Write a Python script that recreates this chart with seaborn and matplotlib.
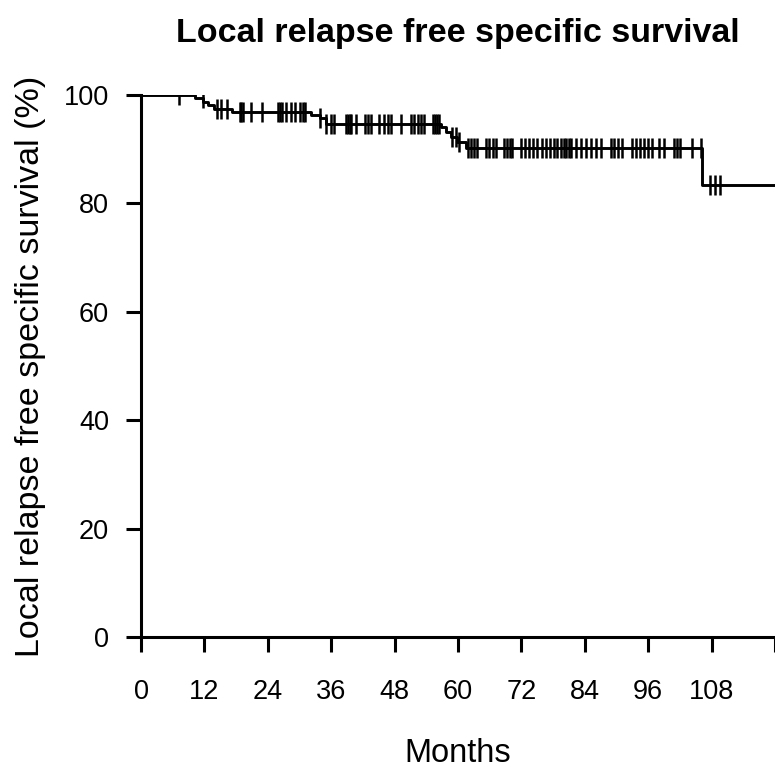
import numpy as np
import pandas as pd
import seaborn as sns
import matplotlib.pyplot as plt

# Step function (months, % surviving)
event_months = [0, 10.2, 11.8, 12.6, 13.8, 17.3, 32.2, 33.8, 35.0,
                56.8, 57.7, 58.7, 59.9, 61.5, 106.2, 120]
survival_pct = [100, 99.4, 98.7, 98.1, 97.5, 96.9, 96.3, 95.7, 94.7,
                94.0, 93.1, 92.2, 91.4, 90.3, 83.3, 83.3]

# Censored observations (months)
censor_months = [
    7.2, 11.7, 14.3, 15.2, 16.3, 18.7, 19.0, 19.3, 20.9, 22.8, 25.9, 26.3,
    26.6, 27.5, 28.4, 29.2, 30.0, 30.6, 31.0, 33.9, 35.1, 36.0, 36.6, 38.8,
    39.2, 39.5, 39.8, 40.7, 42.3, 42.9, 43.5, 45.1, 45.9, 46.7, 47.4, 49.2,
    51.1, 51.7, 52.4, 53.0, 53.6, 55.2, 55.6, 56.0, 56.4, 58.9, 59.6, 60.2,
    61.8, 62.4, 63.0, 63.6, 65.3, 65.9, 66.6, 67.2, 68.7, 69.3, 69.9, 70.2,
    71.9, 72.7, 73.5, 74.2, 75.0, 75.9, 76.7, 77.5, 78.2, 78.8, 79.5, 80.1,
    80.5, 81.0, 81.4, 82.3, 83.3, 84.2, 85.2, 86.1, 87.0, 88.9, 89.6, 90.3,
    91.0, 93.0, 93.7, 94.5, 95.2, 96.0, 96.7, 98.0, 98.9, 100.8, 101.4,
    102.1, 104.3, 105.9, 107.7, 108.6, 109.5,
]

x_ticks = list(range(0, 121, 12))
x_tick_labels = [str(t) for t in x_ticks[:-1]] + [""]
y_ticks = [0, 20, 40, 60, 80, 100]

curve = pd.DataFrame({"month": event_months, "survival": survival_pct})
idx = np.searchsorted(event_months, censor_months, side="right") - 1
censored = pd.DataFrame({
    "month": censor_months,
    "survival": np.array(survival_pct)[idx],
})

sns.set_style("ticks")
plt.rcParams["font.family"] = ["Liberation Sans", "DejaVu Sans"]
plt.rcParams["text.color"] = "black"
plt.rcParams["axes.labelcolor"] = "black"

fig = plt.figure(figsize=(7.75, 7.69), dpi=100)
ax = fig.add_axes([0.182, 0.1717, 0.818, 0.7048])

sns.lineplot(data=curve, x="month", y="survival", drawstyle="steps-post",
             color="black", linewidth=2.1, ax=ax)
sns.scatterplot(data=censored, x="month", y="survival", marker="|",
                s=210, color="black", linewidth=1.8, ax=ax)

ax.set_xlim(0, 120)
ax.set_ylim(0, 100)
ax.set_xticks(x_ticks)
ax.set_xticklabels(x_tick_labels)
ax.set_yticks(y_ticks)

sns.despine(ax=ax)
for side in ["left", "bottom"]:
    ax.spines[side].set_linewidth(2.2)
    ax.spines[side].set_color("black")
ax.tick_params(axis="both", direction="out", length=11, width=2.2,
               colors="black", labelsize=19.5)
ax.tick_params(axis="x", pad=19)
ax.tick_params(axis="y", pad=12)

ax.set_xlabel("Months", fontsize=23.5, labelpad=24)
ax.set_ylabel("Local relapse free specific survival (%)", fontsize=24.5,
              labelpad=13)
ax.set_title("Local relapse free specific survival", fontsize=24.5,
             fontweight="bold", pad=38)

fig.savefig("out.png", dpi=100)
